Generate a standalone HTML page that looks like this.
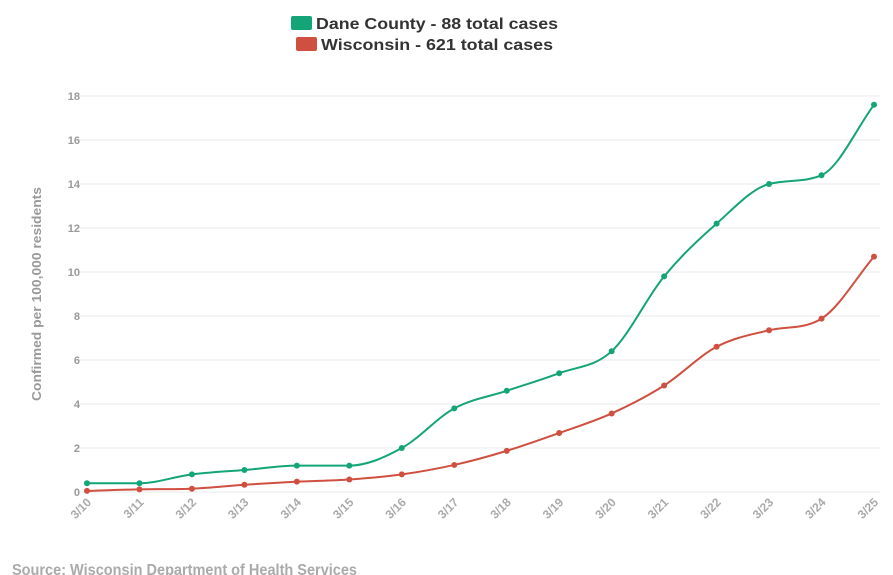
<!DOCTYPE html>
<html><head><meta charset="utf-8"><style>
body{margin:0;background:#fff;font-family:"Liberation Sans",sans-serif;}
svg{display:block}
</style></head><body>
<svg id="chart" width="893" height="575">
<g>
  <g>
    <rect x="291" y="16" width="21" height="14" rx="2" fill="#14a577"/>
    <text x="316" y="29" font-size="16" font-weight="bold" fill="#333" textLength="242" lengthAdjust="spacingAndGlyphs">Dane County - 88 total cases</text>
  </g>
  <g>
    <rect x="296" y="37" width="21" height="14" rx="2" fill="#cf5040"/>
    <text x="321" y="50" font-size="16" font-weight="bold" fill="#333" textLength="232" lengthAdjust="spacingAndGlyphs">Wisconsin - 621 total cases</text>
  </g>
</g>
<text transform="translate(41,294) rotate(-90)" text-anchor="middle" font-size="13" font-weight="bold" fill="#999" textLength="214" lengthAdjust="spacingAndGlyphs">Confirmed per 100,000 residents</text>
<g id="grid"></g><g id="xt"></g><g id="series"></g>
<text x="12" y="575" font-size="16" font-weight="bold" fill="#aaa" textLength="345" lengthAdjust="spacingAndGlyphs">Source: Wisconsin Department of Health Services</text>
</svg>
<script>
const categories=["3/10","3/11","3/12","3/13","3/14","3/15","3/16","3/17","3/18","3/19","3/20","3/21","3/22","3/23","3/24","3/25"];
const dane=[0.4,0.4,0.8,1.0,1.2,1.2,2.0,3.8,4.6,5.4,6.4,9.8,12.2,14.0,14.4,17.6];
const wisconsin=[0.05,0.12,0.15,0.33,0.47,0.57,0.8,1.23,1.87,2.68,3.57,4.84,6.6,7.35,7.88,10.7];
const yTicks=[0,2,4,6,8,10,12,14,16,18];
const NS="http://www.w3.org/2000/svg";
const x0=87,x1=874,y0=492,y1=96,ymax=18;
const X=i=>x0+(x1-x0)*i/(categories.length-1);
const Y=v=>y0-(y0-y1)*v/ymax;
function mk(t,a,p){const e=document.createElementNS(NS,t);for(const k in a)e.setAttribute(k,a[k]);p.appendChild(e);return e;}
const grid=document.getElementById('grid');
yTicks.forEach(t=>{
  const l=mk('line',{x1:77,x2:880,y1:Y(t),y2:Y(t),stroke:'#e8e8e8'},grid);
  
  
  const tx=mk('text',{x:80,y:Y(t)+4,'text-anchor':'end','font-size':11,'font-weight':'bold',fill:'#999'},grid);
  tx.textContent=t;
  
  
});
const xt=document.getElementById('xt');
categories.forEach((c,i)=>{
  const tx=mk('text',{transform:`translate(${X(i)+5},${503}) rotate(-45)`,'text-anchor':'end','font-size':12,'font-weight':'bold',fill:'#aaa'},xt);
  tx.textContent=c;
  
  
});
function path(vals){
  const n=vals.length,xs=vals.map((v,i)=>X(i)),ys=vals.map(v=>Y(v));
  const d=[],m=[];
  for(let i=0;i<n-1;i++)d.push((ys[i+1]-ys[i])/(xs[i+1]-xs[i]));
  m[0]=d[0];m[n-1]=d[n-2];
  for(let i=1;i<n-1;i++)m[i]=(d[i-1]*d[i]<=0)?0:(d[i-1]+d[i])/2;
  for(let i=0;i<n-1;i++){
    if(d[i]===0){m[i]=0;m[i+1]=0;continue;}
    const a=m[i]/d[i],b=m[i+1]/d[i],s=a*a+b*b;
    if(s>9){const t=3/Math.sqrt(s);m[i]=t*a*d[i];m[i+1]=t*b*d[i];}
  }
  let p=`M${xs[0]},${ys[0]}`;
  for(let i=0;i<n-1;i++){const h=(xs[i+1]-xs[i])/3;
    p+=` C${xs[i]+h},${ys[i]+m[i]*h} ${xs[i+1]-h},${ys[i+1]-m[i+1]*h} ${xs[i+1]},${ys[i+1]}`;}
  return p;
}
const sg=document.getElementById('series');
[[wisconsin,'#cf5040','wisconsin'],[dane,'#14a577','dane']].forEach(([vals,col,n])=>{
  const pa=mk('path',{d:path(vals),fill:'none',stroke:col,'stroke-width':2},sg);
  
  
  vals.forEach((v,i)=>{
    const c=mk('circle',{cx:X(i),cy:Y(v),r:3,fill:col},sg);
    
    
  });
});
</script>
</body></html>
